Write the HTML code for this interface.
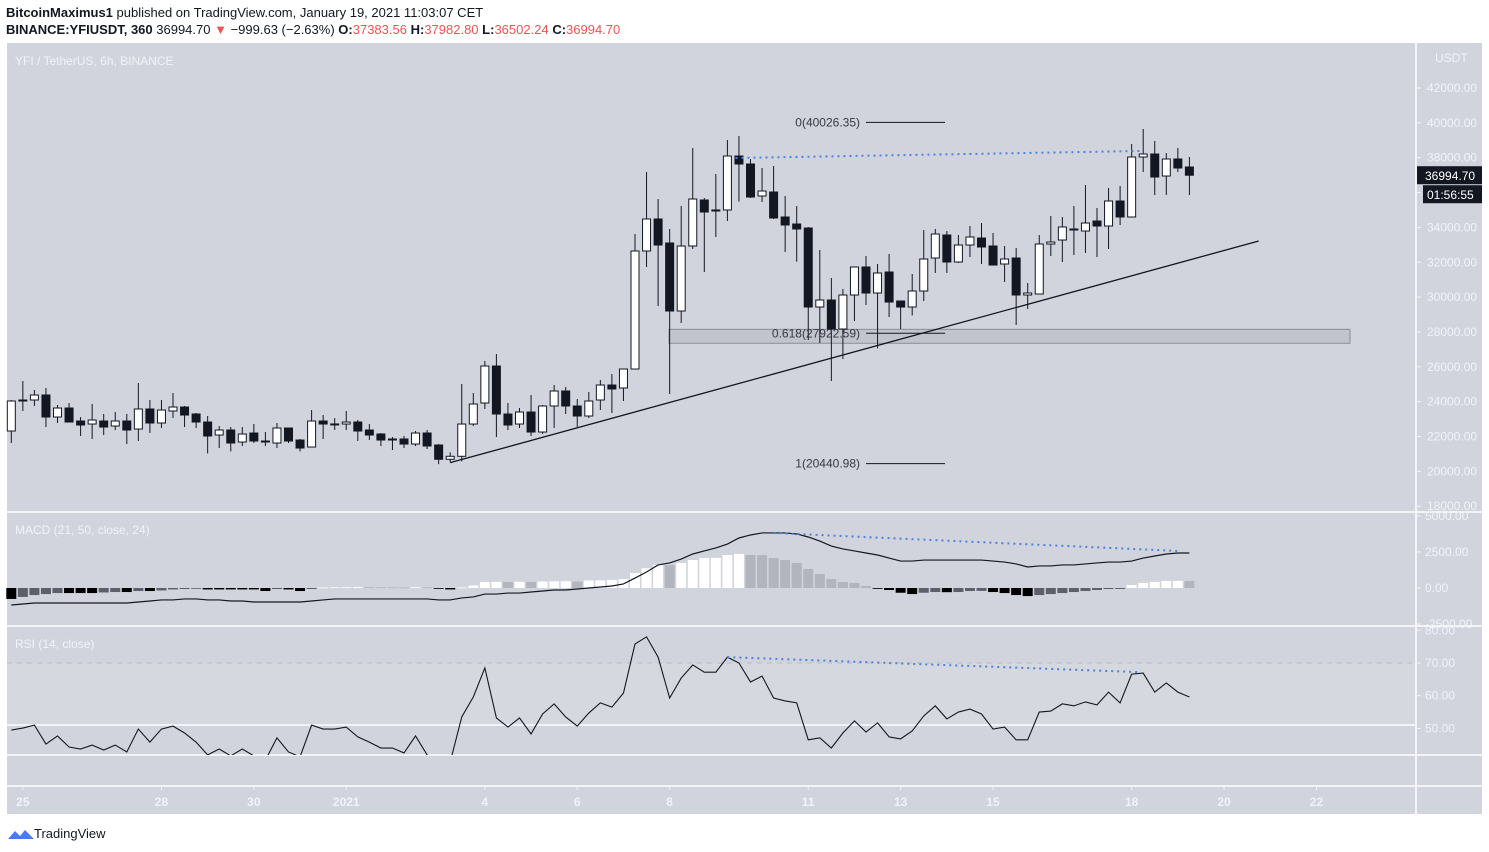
<!DOCTYPE html>
<html><head><meta charset="utf-8"><title>YFI / TetherUS 6h</title>
<style>
html,body{margin:0;padding:0;background:#fff;}
body{width:1489px;height:852px;overflow:hidden;font-family:"Liberation Sans",sans-serif;}
svg{display:block;}
</style></head>
<body>
<svg id="chart" width="1489" height="852" xmlns="http://www.w3.org/2000/svg" font-family="Liberation Sans, sans-serif">
  <text x="6" y="17" font-size="13" fill="#131722"><tspan font-weight="bold">BitcoinMaximus1</tspan> published on TradingView.com, January 19, 2021 11:03:07 CET</text>
  <text x="6" y="34" font-size="13" fill="#131722"><tspan font-weight="bold">BINANCE:YFIUSDT, 360</tspan> 36994.70 <tspan fill="#ef5350">▼</tspan> −999.63 (−2.63%) <tspan font-weight="bold">O:</tspan><tspan fill="#ef5350">37383.56</tspan> <tspan font-weight="bold">H:</tspan><tspan fill="#ef5350">37982.80</tspan> <tspan font-weight="bold">L:</tspan><tspan fill="#ef5350">36502.24</tspan> <tspan font-weight="bold">C:</tspan><tspan fill="#ef5350">36994.70</tspan></text>
  <rect x="7" y="43" width="1475" height="771" fill="#d1d4dc"/>
  <rect x="7" y="663" width="1409" height="62" fill="#d5d8df"/>
  <g id="grid" stroke="#ffffff" stroke-width="1.5">
    <line x1="7" y1="512" x2="1482" y2="512"/>
    <line x1="7" y1="626" x2="1482" y2="626"/>
    <line x1="7" y1="755" x2="1482" y2="755"/>
    <line x1="7" y1="786" x2="1482" y2="786"/>
    <line x1="1416" y1="43" x2="1416" y2="814"/>
  </g>
  <line x1="7" y1="663" x2="1416" y2="663" stroke="#b8bbc3" stroke-dasharray="5 5"/>
  <line x1="7" y1="725" x2="1416" y2="725" stroke="#f0f3fa" stroke-width="2"/>
  <text x="15" y="65" font-size="12" fill="#f0f3fa">YFI / TetherUS, 6h, BINANCE</text>
  <text x="15" y="534" font-size="12" fill="#f0f3fa">MACD (21, 50, close, 24)</text>
  <text x="15" y="648" font-size="12" fill="#f0f3fa">RSI (14, close)</text>
  <g id="axes"></g>
  <g id="overlays"></g>
  <g id="candles"></g>
  <g id="macd"></g>
  <g id="rsi"></g>
  <g id="labels"></g>
  <g>
    <path d="M8 839 l7 -8 l5 5 l5 -6 l9 9 z" fill="#2962ff" opacity="0.85"/>
    <text x="34" y="838" font-size="13" fill="#131722">TradingView</text>
  </g>
</svg>
<script>
const openP=[22315,24094,24094,24381,23118,23635,22889,22716,22889,22601,22889,22429,23578,22774,23463,23692,23291,22831,22085,22372,21683,22200,21741,21626,22487,21798,21396,22889,22716,22716,22831,22372,22143,21856,21856,21568,22200,21511,20692,20864,22716,23922,26045,23291,22716,23405,22257,23750,24611,23750,23176,24094,24955,24783,25873,32645,34482,33104,29202,32932,35572,35000,35000,38097,37638,35802,36031,34597,34195,33965,29431,29833,28169,30120,31727,30235,31440,29776,29431,30349,32243,33563,32014,32989,33391,32932,31899,32243,30120,30177,33047,33276,33908,33793,34367,34080,35515,34597,38040,38212,36949,37925,37466];
const highP=[24094,25184,24668,24783,23807,23922,23118,23864,23291,23405,23291,25070,24094,24094,24496,23750,23348,23176,22601,22544,22544,22716,22257,22774,22487,21856,23520,23233,23061,23463,22946,22716,22200,21970,22028,22315,22372,21568,21093,25012,24496,26332,26734,23922,23635,24381,23807,24955,24840,24152,24553,25241,25586,25873,33621,37179,35629,33908,35228,38556,35687,37064,39015,39245,37925,37409,37523,35802,35228,34023,32702,31095,30464,31727,32358,31899,32473,29776,31325,33851,33908,33793,33563,34080,34252,33678,32932,32817,30808,33563,34655,34597,35228,36433,35113,36260,36375,38786,39647,38958,38269,38556,38040];
const lowP=[21626,23463,23750,22544,22774,22831,22028,21856,22085,22372,21568,21741,22200,22487,23061,22544,22487,21028,21339,21143,21454,21626,21454,21339,21626,21143,21396,21856,22372,22372,21741,21798,21454,21224,21339,21454,21281,20411,20520,20577,22601,23578,21970,22372,22487,22028,22143,22487,23291,22544,23061,23520,23348,24037,25873,31727,29489,24438,28513,32760,31440,33449,34367,35481,35687,35457,34482,32587,32034,27537,27365,25184,26447,28628,29546,27054,28857,28169,28944,29776,31383,31383,31957,32300,31899,31841,30866,28398,29316,30177,32358,32014,32415,32530,32300,32760,34137,34597,37179,35859,35859,37179,35859];
const closeP=[24037,24037,24381,23118,23635,22831,22659,22946,22544,22889,22372,23578,22774,23520,23692,23233,22831,22028,22372,21626,22143,21741,21683,22487,21741,21339,22889,22716,22720,22831,22315,22085,21798,21840,21568,22200,21454,20692,20864,22716,23864,26045,23291,22659,23405,22257,23750,24611,23750,23176,24037,24955,24726,25873,32645,34482,32989,29202,32932,35629,34883,34940,38097,37638,35744,36088,34540,34138,33908,29431,29833,28169,30120,31727,30235,31383,29718,29431,30349,32186,33621,32014,32989,33449,32875,31841,32186,30120,30235,33047,33162,34023,33851,34252,34080,35515,34597,38040,38212,36892,37925,37408,36995];
const macdLine=[-1180,-1110,-1040,-1040,-1040,-1040,-1040,-1040,-1040,-1040,-1040,-970,-900,-830,-830,-760,-760,-830,-830,-900,-900,-970,-970,-970,-970,-970,-900,-830,-760,-760,-760,-760,-760,-760,-760,-760,-760,-830,-830,-690,-620,-420,-420,-350,-350,-280,-210,-140,-140,-70,0,70,140,280,690,1110,1600,1740,2010,2360,2570,2780,3050,3470,3680,3820,3820,3820,3750,3540,3260,2910,2710,2570,2430,2290,2080,1870,1870,1940,1940,1940,1940,1940,1940,1870,1800,1670,1460,1530,1530,1600,1600,1670,1740,1800,1800,1870,2080,2220,2360,2430,2430];
const macdHist=[-760,-620,-490,-420,-350,-350,-350,-350,-310,-280,-280,-210,-210,-170,-100,-70,-50,-100,-100,-100,-100,-100,-210,-70,-100,-210,-70,35,50,55,60,55,50,45,40,50,45,-50,-100,35,170,420,425,415,430,420,450,460,470,450,520,530,560,620,1040,1370,1600,1590,1740,1940,2080,2090,2290,2360,2290,2280,2080,1940,1740,1320,970,620,420,350,140,-50,-140,-330,-420,-330,-280,-290,-280,-210,-200,-280,-350,-490,-560,-490,-420,-350,-280,-210,-140,-70,-65,210,350,420,490,495,490];
const rsiVals=[49.5,50.1,51.0,45.2,47.7,44.3,43.7,44.9,43.4,44.9,42.8,49.8,45.8,49.8,50.7,48.6,45.8,41.9,43.7,41.6,43.7,41.6,40.3,47.1,42.8,41.3,51.0,49.8,49.8,50.4,47.4,45.8,44.0,44.0,42.5,47.7,41.9,38.8,39.7,53.5,59.6,68.5,53.2,50.4,53.2,48.3,54.4,57.5,53.5,50.7,54.7,57.8,56.5,60.8,75.8,78.0,71.8,59.3,65.4,69.4,67.2,67.2,71.8,70.0,64.2,66.0,59.3,58.4,57.8,46.5,47.1,44.0,48.6,52.3,48.9,51.7,47.4,46.8,49.2,53.8,56.9,52.9,55.0,55.9,54.4,49.8,50.4,46.5,46.5,55.0,55.3,57.5,56.9,58.1,57.2,61.1,57.8,66.6,66.9,61.1,63.9,61.1,59.6];
const priceTicks=[42000,40000,38000,36000,34000,32000,30000,28000,26000,24000,22000,20000,18000];
const macdTicks=[5000,2500,0,-2500];
const rsiTicks=[80,70,60,50];
const dayLabels=['25','28','30','2021','4','6','8','11','13','15','18','20','22'];
const dayOffsets=[0,3,5,7,10,12,14,17,19,21,24,26,28];
const fibLevels=[40026.35,27922.59,20440.98];
const fibNames=['0','0.618','1'];
const zonePrices=[28150,27350];
const trendIdx=[38,108];
const trendPrice=[20500,33220];
const priceDivIdx=[62.7,97.7];
const priceDivVal=[37983,38384];
const macdDivIdx=[66,101];
const macdDivVal=[3820,2570];
const rsiDivIdx=[62,97.7];
const rsiDivVal=[71.8,67.2];
const lastPrice=36994.70;

const NS='http://www.w3.org/2000/svg';
const xOf=i=>11.3+i*11.55;
const yP=p=>88+(42000-p)/2000*34.85;
const yM=v=>588-v/69.4;
const yR=v=>663-(v-70)*3.27;
function mk(tag,attrs,parent){const e=document.createElementNS(NS,tag);for(const k in attrs)e.setAttribute(k,attrs[k]);parent.appendChild(e);return e;}
const gA=document.getElementById('axes'),gO=document.getElementById('overlays'),gC=document.getElementById('candles'),gM=document.getElementById('macd'),gR=document.getElementById('rsi'),gL=document.getElementById('labels');

// axis labels
priceTicks.forEach(p=>{const y=yP(p);
  const t=mk('line',{x1:1416,y1:y,x2:1421,y2:y,stroke:'#f0f3fa'},gA);
  
  
  const l=mk('text',{x:1427,y:y+4,'font-size':12,fill:'#f0f3fa'},gA);l.textContent=p.toFixed(2);
  
  
});
const usd=mk('text',{x:1435,y:62,'font-size':12,fill:'#f0f3fa'},gA);usd.textContent='USDT';


macdTicks.forEach(v=>{const y=yM(v);
  const l=mk('text',{x:1425,y:y+4,'font-size':12,fill:'#f0f3fa'},gA);l.textContent=v.toFixed(2);
  
  
  mk('line',{x1:1416,y1:y,x2:1421,y2:y,stroke:'#f0f3fa'},gA);
});
rsiTicks.forEach(v=>{const y=yR(v);
  const l=mk('text',{x:1425,y:y+4,'font-size':12,fill:'#f0f3fa'},gA);l.textContent=v.toFixed(2);
  
  
  mk('line',{x1:1416,y1:y,x2:1421,y2:y,stroke:'#f0f3fa'},gA);
});
dayLabels.forEach((d,k)=>{const x=xOf(1+dayOffsets[k]*4);
  mk('line',{x1:x,y1:786,x2:x,y2:790,stroke:'#f0f3fa'},gA);
  const l=mk('text',{x:x,y:806,'font-size':12,'font-weight':'bold',fill:'#f0f3fa','text-anchor':'middle'},gA);l.textContent=d;
  
  
});

// overlays: zone, fib, trendline, divergences
const zr=mk('rect',{x:669,y:yP(zonePrices[0]),width:681,height:yP(zonePrices[1])-yP(zonePrices[0]),fill:'rgba(175,178,187,0.45)',stroke:'#8a8d96','stroke-width':1},gO);


fibLevels.forEach((p,k)=>{const y=yP(p);
  const ln=mk('line',{x1:866,y1:y,x2:945,y2:y,stroke:'#131722','stroke-width':1},gO);
  
  
  const t=mk('text',{x:860,y:y+4,'font-size':12,fill:'#363a45','text-anchor':'end'},gL);t.textContent=fibNames[k]+'('+p.toFixed(2)+')';
  
  
});
const tl=mk('line',{x1:xOf(trendIdx[0]),y1:yP(trendPrice[0]),x2:xOf(trendIdx[1]),y2:yP(trendPrice[1]),stroke:'#131722','stroke-width':1.3},gO);


function dotted(x1,y1,x2,y2,name){const l=mk('line',{x1,y1,x2,y2,stroke:'#4c82e0','stroke-width':2,'stroke-dasharray':'2 4'},gL);
  
  }
dotted(xOf(priceDivIdx[0]),yP(priceDivVal[0]),xOf(priceDivIdx[1]),yP(priceDivVal[1]),'price-resistance-dotted');
dotted(xOf(macdDivIdx[0]),yM(macdDivVal[0]),xOf(macdDivIdx[1]),yM(macdDivVal[1]),'macd-divergence-dotted');
dotted(xOf(rsiDivIdx[0]),yR(rsiDivVal[0]),xOf(rsiDivIdx[1]),yR(rsiDivVal[1]),'rsi-divergence-dotted');

// candles
openP.forEach((o,i)=>{const c=closeP[i],x=xOf(i),up=c>=o;
  const w=mk('line',{x1:x,y1:yP(highP[i]),x2:x,y2:yP(lowP[i]),stroke:'#131722','stroke-width':1},gC);
  
  
  const top=yP(Math.max(o,c)),bot=yP(Math.min(o,c));
  const b=mk('rect',{x:x-4,y:top,width:8,height:Math.max(1,bot-top),fill:up?'#ffffff':'#131722',stroke:'#131722','stroke-width':1},gC);
  
  
});

// MACD histogram + line
macdHist.forEach((v,i)=>{const prev=i>0?macdHist[i-1]:v;
  let col;
  if(v>=0) col=v>=prev?'#ffffff':'#b2b5be'; else col=v<=prev?'#000000':'#5d606b';
  const y0=yM(0),y1=yM(v);
  const r=mk('rect',{x:xOf(i)-5,y:Math.min(y0,y1),width:10,height:Math.max(0.8,Math.abs(y1-y0)),fill:col},gM);
  
  
});
const mp=mk('polyline',{points:macdLine.map((v,i)=>xOf(i)+','+yM(v)).join(' '),fill:'none',stroke:'#131722','stroke-width':1.2},gM);



// RSI
const cp=mk('clipPath',{id:'rsiclip'},gR);mk('rect',{x:7,y:627,width:1409,height:128},cp);
const rp=mk('polyline',{points:rsiVals.map((v,i)=>xOf(i)+','+yR(v)).join(' '),fill:'none',stroke:'#131722','stroke-width':1.1,'clip-path':'url(#rsiclip)'},gR);



// last price + countdown
const ly=yP(lastPrice);
const pb=mk('rect',{x:1417,y:ly-9,width:65,height:18,fill:'#131722'},gL);


const pt=mk('text',{x:1425,y:ly+5,'font-size':12,fill:'#ffffff'},gL);pt.textContent=lastPrice.toFixed(2);


const cb=mk('rect',{x:1423,y:ly+10,width:59,height:18,fill:'#131722'},gL);


const ct=mk('text',{x:1427,y:ly+24,'font-size':12,fill:'#ffffff'},gL);ct.textContent='01:56:55';


</script>
</body></html>
